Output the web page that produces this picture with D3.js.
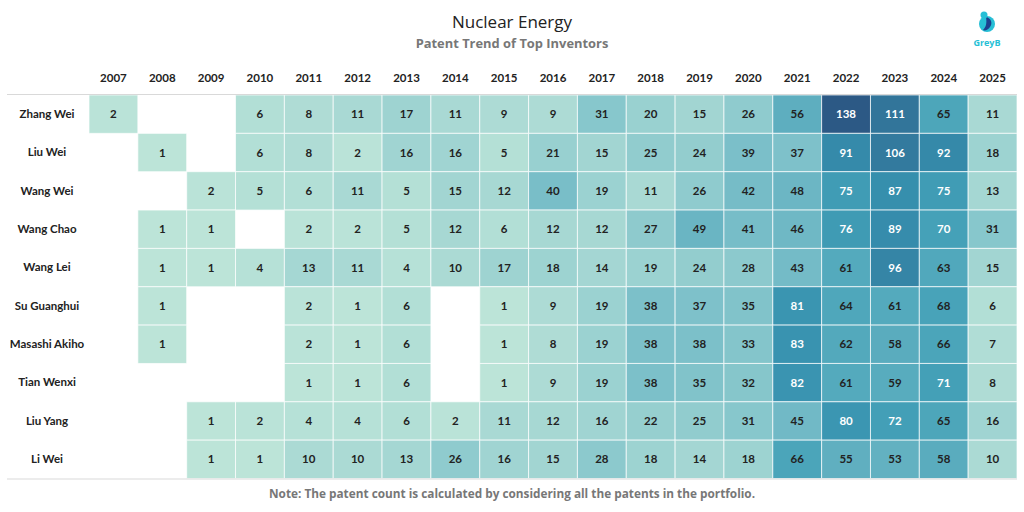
<!DOCTYPE html>
<html>
<head>
<meta charset="utf-8">
<script src="https://cdn.jsdelivr.net/npm/d3@7"></script>
<style>
  html, body { margin: 0; padding: 0; background: #fff; }
  svg { display: block; font-family: "Open Sans", "Noto Sans", sans-serif; }
</style>
</head>
<body>
<svg id="chart" width="1024" height="512"></svg>
<script>
const years = ["2007","2008","2009","2010","2011","2012","2013","2014","2015","2016","2017","2018","2019","2020","2021","2022","2023","2024","2025"];
const inventors = ["Zhang Wei","Liu Wei","Wang Wei","Wang Chao","Wang Lei","Su Guanghui","Masashi Akiho","Tian Wenxi","Liu Yang","Li Wei"];
const zhangWei     = [2,null,null,6,8,11,17,11,9,9,31,20,15,26,56,138,111,65,11];
const liuWei       = [null,1,null,6,8,2,16,16,5,21,15,25,24,39,37,91,106,92,18];
const wangWei      = [null,null,2,5,6,11,5,15,12,40,19,11,26,42,48,75,87,75,13];
const wangChao     = [null,1,1,null,2,2,5,12,6,12,12,27,49,41,46,76,89,70,31];
const wangLei      = [null,1,1,4,13,11,4,10,17,18,14,19,24,28,43,61,96,63,15];
const suGuanghui   = [null,1,null,null,2,1,6,null,1,9,19,38,37,35,81,64,61,68,6];
const masashiAkiho = [null,1,null,null,2,1,6,null,1,8,19,38,38,33,83,62,58,66,7];
const tianWenxi    = [null,null,null,null,1,1,6,null,1,9,19,38,35,32,82,61,59,71,8];
const liuYang      = [null,null,1,2,4,4,6,2,11,12,16,22,25,31,45,80,72,65,16];
const liWei        = [null,null,1,1,10,10,13,26,16,15,28,18,14,18,66,55,53,58,10];
const seriesValues = [zhangWei, liuWei, wangWei, wangChao, wangLei, suGuanghui, masashiAkiho, tianWenxi, liuYang, liWei];

const title = "Nuclear Energy";
const subtitle = "Patent Trend of Top Inventors";
const note = "Note: The patent count is calculated by considering all the patents in the portfolio.";

const palette = ["#bce4d8","#aedcd5","#a1d5d2","#95cecf","#89c8cc","#7ec1ca","#72bac6","#66b2c2","#59acbe","#4ba5ba","#419eb6","#3b96b2","#358ead","#3586a7","#347ea1","#32779b","#316f96","#2f6790","#2d608a","#2c5985"];

const cells = [];
inventors.forEach((name, i) => {
  seriesValues[i].forEach((v, j) => {
    if (v !== null) cells.push({name, year: years[j], value: v});
  });
});

const svg = d3.select("#chart");
const gLeft = 89, gRight = 1017, gTop = 95, gBottom = 478.5;
const tableFont = "Lato, 'Open Sans', sans-serif";

const x = d3.scaleBand().domain(years).range([gLeft, gRight]).padding(0);
const y = d3.scaleBand().domain(inventors).range([gTop, gBottom]).padding(0);
const maxV = d3.max(cells, d => d.value);
const color = d3.scaleSequential(d3.interpolateRgbBasis(palette)).domain([1, maxV]);

// Titles
svg.append("text").attr("x", 512).attr("y", 28).attr("text-anchor", "middle")
  .attr("font-size", 17).attr("fill", "#222").text(title);
svg.append("text").attr("x", 512).attr("y", 48).attr("text-anchor", "middle")
  .attr("font-size", 12.9).attr("font-weight", "bold").attr("fill", "#777").text(subtitle);

// Cells
const g = svg.append("g");
g.selectAll("rect").data(cells).join("rect")
  .attr("x", d => x(d.year))
  .attr("y", d => y(d.name))
  .attr("width", x.bandwidth())
  .attr("height", y.bandwidth())
  .attr("fill", d => color(d.value))
  .attr("stroke", "#fff").attr("stroke-opacity", 0.7).attr("stroke-width", 1);

g.selectAll("text.val").data(cells).join("text")
  .attr("class", "val")
  .attr("x", d => x(d.year) + x.bandwidth() / 2)
  .attr("y", d => y(d.name) + y.bandwidth() / 2)
  .attr("dy", "0.35em")
  .attr("text-anchor", "middle")
  .attr("font-family", tableFont)
  .attr("font-size", 11.5).attr("font-weight", "bold")
  .attr("fill", d => d.value >= 69 ? "#ffffff" : "#222")
  .text(d => d.value);

// Column header axis
const xAxis = svg.append("g").attr("transform", `translate(0, 82)`)
  .call(d3.axisTop(x).tickSize(0).tickPadding(0));
xAxis.select(".domain").remove();
xAxis.selectAll("text").attr("font-size", 11.5).attr("font-weight", "bold")
  .attr("fill", "#222").attr("font-family", tableFont);

// Row labels
const yAxis = svg.append("g").attr("transform", `translate(47, 0)`)
  .call(d3.axisLeft(y).tickSize(0).tickPadding(0));
yAxis.select(".domain").remove();
yAxis.selectAll("text").attr("text-anchor", "middle").attr("font-size", 11.5)
  .attr("font-weight", "bold").attr("fill", "#222").attr("font-family", tableFont);

// Separator lines
svg.append("line").attr("x1", 7).attr("x2", gRight).attr("y1", gTop - 0.5).attr("y2", gTop - 0.5)
  .attr("stroke", "#d9d9d9").attr("stroke-width", 1.2);
svg.append("line").attr("x1", 7).attr("x2", gRight).attr("y1", gBottom + 0.5).attr("y2", gBottom + 0.5)
  .attr("stroke", "#d9d9d9").attr("stroke-width", 1.2);

// Note
svg.append("text").attr("x", 512).attr("y", 498).attr("text-anchor", "middle")
  .attr("font-size", 11.8).attr("font-weight", "bold").attr("fill", "#777").text(note);

// Logo
const logo = svg.append("g").attr("transform", "translate(987, 24)");
logo.append("circle").attr("r", 8).attr("fill", "#27bfd6");
logo.append("path").attr("d", "M-1,-7 C4,-6 6,-1 3,3 C1,6 -2,7 -4,6 C-1,3 0,-1 -1,-7 Z").attr("fill", "#1d3f8f");
logo.append("circle").attr("cx", -3).attr("cy", -9).attr("r", 3.5).attr("fill", "#27bfd6");
logo.append("text").attr("x", 0).attr("y", 22).attr("text-anchor", "middle")
  .attr("font-size", 9).attr("font-weight", "bold").attr("fill", "#27bfd6").text("GreyB");
</script>
</body>
</html>
